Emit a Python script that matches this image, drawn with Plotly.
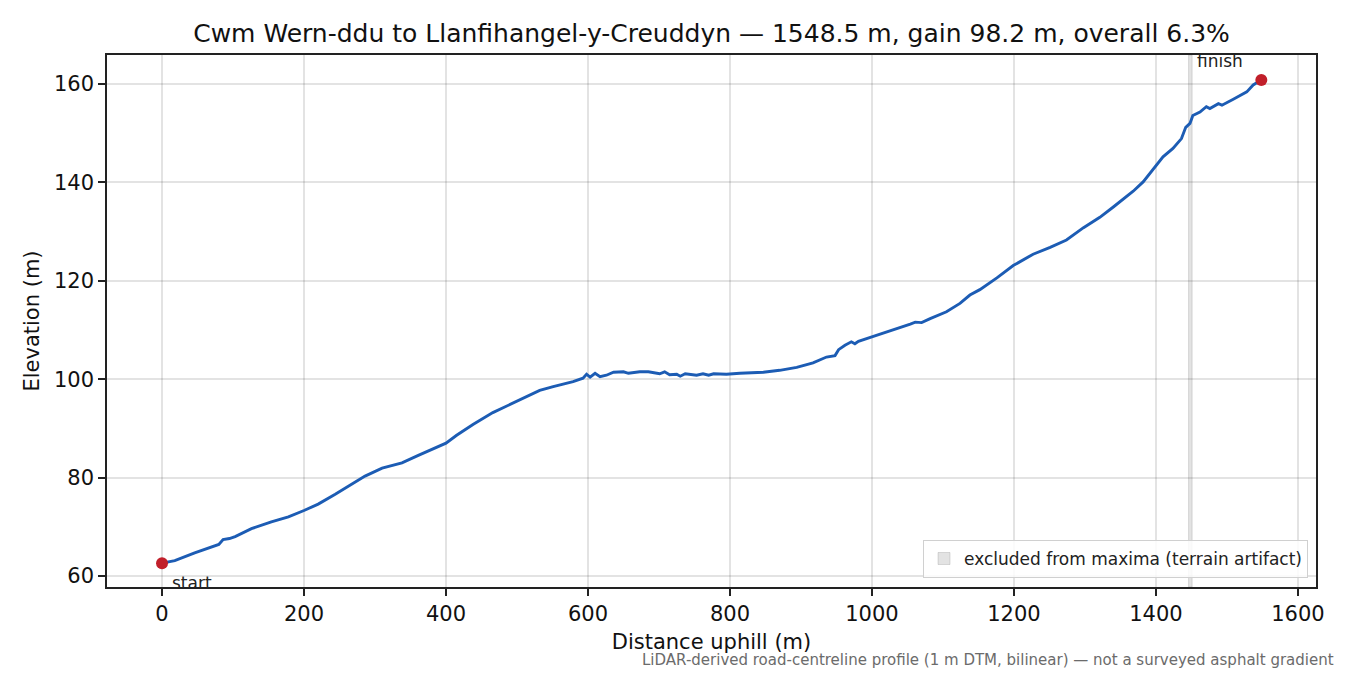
import plotly.graph_objects as go

# Road profile (distance uphill in m, elevation in m)
dist_m = [0, 18, 46, 65, 80, 86, 95, 103, 126, 154, 178, 200, 220, 244, 267, 286,
          310, 338, 361, 385, 400, 415, 438, 466, 499, 532, 551, 579, 593, 598,
          603, 610, 617, 626, 636, 650, 657, 673, 685, 701, 708, 715, 725, 730,
          737, 753, 762, 770, 777, 795, 814, 847, 870, 894, 917, 936, 948, 953,
          962, 971, 976, 981, 1002, 1030, 1054, 1061, 1070, 1082, 1105, 1124,
          1138, 1152, 1176, 1199, 1227, 1251, 1274, 1298, 1321, 1340, 1368,
          1382, 1399, 1410, 1424, 1436, 1442, 1448, 1452, 1462, 1471, 1476,
          1488, 1493, 1509, 1528, 1537, 1548.5]
elev_m = [62.6, 63.1, 64.7, 65.6, 66.4, 67.4, 67.6, 68.0, 69.6, 71.0, 72.0, 73.3,
          74.6, 76.6, 78.6, 80.3, 81.9, 83.0, 84.5, 86.0, 87.0, 88.6, 90.8, 93.2,
          95.4, 97.7, 98.5, 99.5, 100.2, 101.0, 100.4, 101.2, 100.5, 100.8, 101.4,
          101.5, 101.2, 101.5, 101.5, 101.1, 101.5, 100.9, 101.0, 100.6, 101.1,
          100.8, 101.1, 100.8, 101.1, 101.0, 101.2, 101.4, 101.8, 102.4, 103.3,
          104.5, 104.8, 106.0, 106.9, 107.6, 107.2, 107.7, 108.7, 110.0, 111.2,
          111.6, 111.5, 112.3, 113.7, 115.4, 117.1, 118.2, 120.6, 123.1, 125.4,
          126.8, 128.3, 130.8, 132.9, 135.0, 138.2, 140.1, 143.3, 145.2, 146.9,
          148.9, 151.2, 152.0, 153.6, 154.3, 155.4, 155.0, 156.0, 155.7, 156.9,
          158.4, 159.8, 160.8]

excluded_band = [1446, 1451]   # metres, terrain artifact window
x_ticks = [0, 200, 400, 600, 800, 1000, 1200, 1400, 1600]
y_ticks = [60, 80, 100, 120, 140, 160]

FONT = "DejaVu Sans"
LINE_BLUE = "#1c5cb4"
DOT_RED = "#c11f2a"

length = dist_m[-1]
gain = elev_m[-1] - elev_m[0]
overall = gain / length * 100
title = (f"Cwm Wern-ddu to Llanfihangel-y-Creuddyn — {length:.1f} m, "
         f"gain {gain:.1f} m, overall {overall:.1f}%")

# page body has an 8px margin, so the figure is sized 8px smaller each way
W, H = 1342, 667

fig = go.Figure()

fig.add_trace(go.Scatter(
    x=dist_m, y=elev_m, mode="lines",
    line=dict(color=LINE_BLUE, width=2.9),
    showlegend=False, hoverinfo="x+y"
))

# start / finish markers
fig.add_trace(go.Scatter(
    x=[dist_m[0], dist_m[-1]], y=[elev_m[0], elev_m[-1]], mode="markers",
    marker=dict(color=DOT_RED, size=12),
    showlegend=False
))

# excluded band (shape with its own legend entry)
fig.add_shape(
    type="rect", xref="x", yref="paper",
    x0=excluded_band[0], x1=excluded_band[1], y0=0, y1=1,
    fillcolor="rgba(128,128,128,0.22)",
    line=dict(color="rgba(128,128,128,0.25)", width=1),
    layer="below",
    showlegend=True, name="excluded from maxima (terrain artifact)"
)

fig.add_annotation(x=dist_m[0], y=elev_m[0], text="start", showarrow=False,
                   xanchor="left", yanchor="middle", xshift=8, yshift=-20,
                   font=dict(family=FONT, size=17, color="#222"))
fig.add_annotation(x=dist_m[-1], y=elev_m[-1], text="finish", showarrow=False,
                   xanchor="right", yanchor="middle", xshift=-16, yshift=19,
                   font=dict(family=FONT, size=17, color="#222"))

fig.add_annotation(
    xref="paper", yref="paper", x=1.0165, y=-0.137,
    text="LiDAR-derived road-centreline profile (1 m DTM, bilinear) — not a surveyed asphalt gradient",
    showarrow=False, xanchor="right", yanchor="middle",
    font=dict(family=FONT, size=15, color="#6b6b6b")
)

axis_common = dict(
    showline=True, linecolor="#222", linewidth=1.6, mirror=True,
    ticks="outside", ticklen=7, tickwidth=1.5, tickcolor="#222",
    showgrid=True, gridcolor="rgba(0,0,0,0.11)", gridwidth=1.5,
    zeroline=False,
    tickfont=dict(family=FONT, size=21, color="#111"),
)

fig.update_layout(
    width=W, height=H,
    paper_bgcolor="white", plot_bgcolor="white",
    margin=dict(l=99, r=34, t=47, b=88),
    font=dict(family=FONT, color="#111"),
    title=dict(text=title, x=0.5, xref="paper", y=1 - 25 / H,
               yref="container", xanchor="center", yanchor="middle",
               font=dict(family=FONT, size=25, color="#111")),
    xaxis=dict(axis_common, range=[-77.5, 1625.5], tickvals=x_ticks,
               title=dict(text="Distance uphill (m)", standoff=9,
                          font=dict(family=FONT, size=21))),
    yaxis=dict(axis_common, range=[57.75, 165.9], tickvals=y_ticks,
               title=dict(text="Elevation (m)", standoff=9,
                          font=dict(family=FONT, size=21))),
    legend=dict(x=0.9934, y=0.017, xanchor="right", yanchor="bottom",
                bgcolor="rgba(255,255,255,0.85)", bordercolor="#d0d0d0",
                borderwidth=1, font=dict(family=FONT, size=17, color="#222")),
)

fig.write_html("out.html")
